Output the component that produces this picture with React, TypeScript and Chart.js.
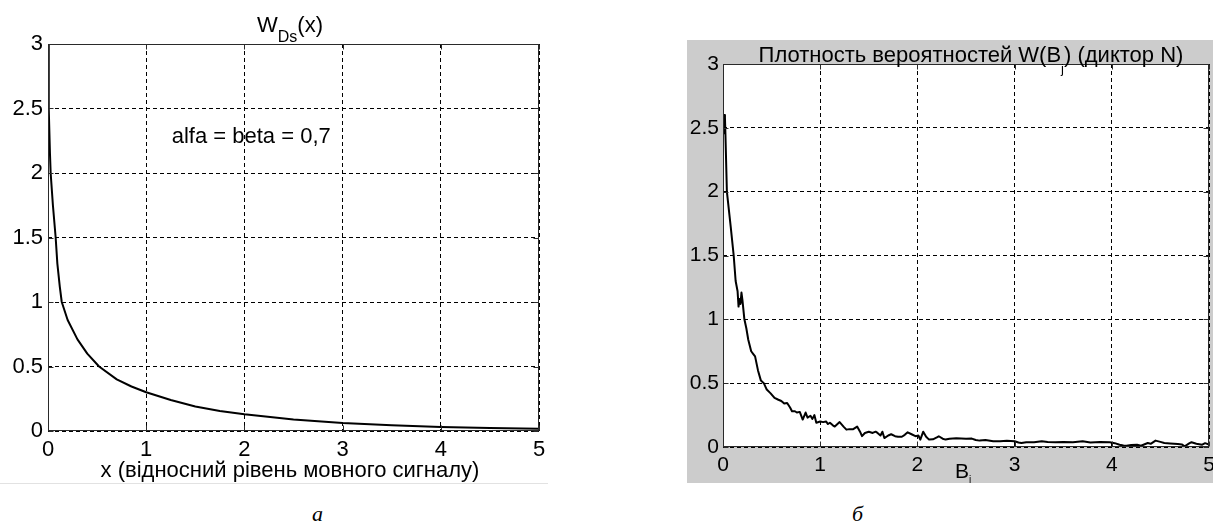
import React, { useEffect, useRef } from "react";
import { Chart, registerables } from "chart.js";
Chart.register(...registerables);

const FONT = '"Liberation Sans", Arial, Helvetica, sans-serif';

// tick values
const xTickValues = [0, 1, 2, 3, 4, 5];
const yTickValues = [0, 0.5, 1, 1.5, 2, 2.5, 3];

// left panel: W_Ds(x), alfa = beta = 0,7
const leftX = [0.002, 0.005, 0.01, 0.02, 0.027, 0.05, 0.078, 0.095, 0.12, 0.14, 0.2, 0.3, 0.4, 0.52, 0.7, 0.85, 1.0, 1.25, 1.5, 1.75, 2.0, 2.5, 3.0, 3.5, 4.0, 4.5, 5.0];
const leftY = [3.6, 2.9, 2.5, 2.15, 2.0, 1.75, 1.5, 1.3, 1.12, 1.0, 0.86, 0.71, 0.6, 0.5, 0.4, 0.345, 0.3, 0.24, 0.19, 0.155, 0.13, 0.09, 0.062, 0.045, 0.031, 0.023, 0.018];

// right panel: Плотность вероятностей W(Bj) (диктор N)
const rightX = [0.01, 0.015, 0.02, 0.025, 0.04, 0.08, 0.11, 0.13, 0.15, 0.16, 0.17, 0.18, 0.19, 0.2, 0.22, 0.24, 0.26, 0.29, 0.31, 0.33, 0.36, 0.39, 0.42, 0.45, 0.49, 0.53, 0.57, 0.6, 0.63, 0.66, 0.69, 0.71, 0.74, 0.76, 0.79, 0.82, 0.85, 0.87, 0.9, 0.92, 0.94, 0.96, 1.0, 1.03, 1.06, 1.08, 1.1, 1.13, 1.15, 1.2, 1.24, 1.27, 1.3, 1.34, 1.38, 1.41, 1.43, 1.46, 1.5, 1.54, 1.57, 1.59, 1.62, 1.64, 1.66, 1.7, 1.73, 1.77, 1.8, 1.84, 1.87, 1.9, 1.94, 1.98, 2.01, 2.03, 2.06, 2.09, 2.12, 2.16, 2.2, 2.22, 2.26, 2.29, 2.33, 2.4, 2.5, 2.56, 2.6, 2.64, 2.7, 2.78, 2.85, 2.92, 3.0, 3.04, 3.07, 3.12, 3.2, 3.28, 3.34, 3.42, 3.5, 3.6, 3.7, 3.78, 3.88, 3.98, 4.03, 4.08, 4.12, 4.15, 4.2, 4.26, 4.3, 4.37, 4.4, 4.45, 4.5, 4.54, 4.6, 4.68, 4.72, 4.75, 4.8, 4.82, 4.87, 4.93, 4.96, 5.0];
const rightY = [2.45, 2.6, 2.58, 2.45, 2.0, 1.72, 1.5, 1.3, 1.22, 1.1, 1.16, 1.12, 1.21, 1.15, 1.0, 0.93, 0.84, 0.75, 0.73, 0.71, 0.6, 0.52, 0.5, 0.45, 0.42, 0.385, 0.37, 0.36, 0.34, 0.345, 0.31, 0.28, 0.28, 0.27, 0.275, 0.215, 0.27, 0.23, 0.245, 0.22, 0.25, 0.19, 0.2, 0.195, 0.2, 0.18, 0.19, 0.17, 0.16, 0.195, 0.16, 0.136, 0.14, 0.14, 0.16, 0.12, 0.085, 0.11, 0.12, 0.11, 0.12, 0.11, 0.09, 0.12, 0.07, 0.09, 0.1, 0.085, 0.08, 0.08, 0.095, 0.115, 0.1, 0.085, 0.09, 0.058, 0.12, 0.08, 0.058, 0.06, 0.075, 0.084, 0.065, 0.058, 0.065, 0.068, 0.065, 0.066, 0.055, 0.05, 0.055, 0.045, 0.046, 0.048, 0.045, 0.035, 0.031, 0.038, 0.037, 0.045, 0.04, 0.037, 0.04, 0.038, 0.045, 0.036, 0.04, 0.037, 0.03, 0.018, 0.012, 0.01, 0.015, 0.018, 0.01, 0.031, 0.025, 0.05, 0.04, 0.031, 0.028, 0.024, 0.02, 0.005, 0.03, 0.037, 0.025, 0.018, 0.03, 0.02];

type Seg = { t: string; sub?: boolean };

function drawRich(
  ctx: CanvasRenderingContext2D,
  segs: Seg[],
  x: number,
  baseY: number,
  size: number,
  subSize: number,
  subDrop: number,
  align: "center" | "left" = "center"
) {
  const mainF = `${size}px ${FONT}`;
  const subF = `${subSize}px ${FONT}`;
  let total = 0;
  const widths = segs.map((s) => {
    ctx.font = s.sub ? subF : mainF;
    const w = ctx.measureText(s.t).width;
    total += w;
    return w;
  });
  let cx = align === "center" ? x - total / 2 : x;
  ctx.textAlign = "left";
  ctx.textBaseline = "alphabetic";
  ctx.fillStyle = "#000";
  segs.forEach((s, i) => {
    ctx.font = s.sub ? subF : mainF;
    ctx.fillText(s.t, cx, s.sub ? baseY + subDrop : baseY);
    cx += widths[i];
  });
}

type Cfg = {
  w: number;
  h: number;
  bg: string;
  yW: number;
  xH: number;
  pad: { top: number; right: number; bottom: number; left: number };
  tickSize: number;
  xTickPad: number;
  yTickPad: number;
  xs: number[];
  ys: number[];
  lineWidth: number;
  texts: (ctx: CanvasRenderingContext2D, chart: Chart) => void;
};

function build(canvas: HTMLCanvasElement, cfg: Cfg): Chart {
  const decor = {
    id: "decor",
    beforeDraw(chart: Chart) {
      const { ctx, chartArea: a } = chart;
      ctx.save();
      ctx.fillStyle = cfg.bg;
      ctx.fillRect(0, 0, chart.width, chart.height);
      ctx.fillStyle = "#fff";
      ctx.fillRect(a.left, a.top, a.right - a.left, a.bottom - a.top);
      ctx.restore();
    },
    afterDatasetsDraw(chart: Chart) {
      const { ctx, chartArea: a } = chart;
      const xs = chart.scales.x;
      const ys = chart.scales.y;
      ctx.save();
      ctx.strokeStyle = "#2a2a2a";
      ctx.lineWidth = 1;
      const L = Math.round(a.left) + 0.5;
      const R = Math.round(a.right) - 0.5;
      const T = Math.round(a.top) + 0.5;
      const B = Math.round(a.bottom) - 0.5;
      ctx.strokeRect(L, T, R - L, B - T);
      const tl = 5;
      ctx.beginPath();
      xTickValues.forEach((v) => {
        const px = Math.round(xs.getPixelForValue(v)) + 0.5;
        ctx.moveTo(px, B);
        ctx.lineTo(px, B - tl);
        ctx.moveTo(px, T);
        ctx.lineTo(px, T + tl);
      });
      yTickValues.forEach((v) => {
        const py = Math.round(ys.getPixelForValue(v)) + 0.5;
        ctx.moveTo(L, py);
        ctx.lineTo(L + tl, py);
        ctx.moveTo(R, py);
        ctx.lineTo(R - tl, py);
      });
      ctx.stroke();
      ctx.restore();
    },
    afterDraw(chart: Chart) {
      const ctx = chart.ctx;
      ctx.save();
      cfg.texts(ctx, chart);
      ctx.restore();
    },
  };

  return new Chart(canvas, {
    type: "line",
    data: {
      datasets: [
        {
          data: cfg.xs.map((x, i) => ({ x, y: cfg.ys[i] })),
          borderColor: "#000",
          borderWidth: cfg.lineWidth,
          pointRadius: 0,
          fill: false,
          tension: 0,
          borderJoinStyle: "round",
        },
      ],
    },
    options: {
      responsive: false,
      animation: false,
      devicePixelRatio: 1,
      layout: { padding: cfg.pad },
      plugins: {
        legend: { display: false },
        tooltip: { enabled: false },
        title: { display: false },
      },
      scales: {
        x: {
          type: "linear",
          min: 0,
          max: 5,
          afterBuildTicks: (s: any) => {
            s.ticks = xTickValues.map((v) => ({ value: v }));
          },
          afterFit: (s: any) => {
            s.height = cfg.xH;
          },
          grid: { color: "#000", lineWidth: 1, drawTicks: false },
          border: { display: false, dash: [4, 3] },
          ticks: {
            color: "#000",
            font: { family: FONT, size: cfg.tickSize },
            padding: cfg.xTickPad,
            maxRotation: 0,
            autoSkip: false,
            callback: (v: any) => String(v),
          },
        },
        y: {
          type: "linear",
          min: 0,
          max: 3,
          afterBuildTicks: (s: any) => {
            s.ticks = yTickValues.map((v) => ({ value: v }));
          },
          afterFit: (s: any) => {
            s.width = cfg.yW;
          },
          grid: { color: "#000", lineWidth: 1, drawTicks: false },
          border: { display: false, dash: [4, 3] },
          ticks: {
            color: "#000",
            font: { family: FONT, size: cfg.tickSize },
            padding: cfg.yTickPad,
            autoSkip: false,
            callback: (v: any) => String(v),
          },
        },
      },
    },
    plugins: [decor],
  } as any);
}

const leftCfg: Cfg = {
  w: 560,
  h: 483,
  bg: "#ffffff",
  yW: 48,
  xH: 52,
  pad: { top: 44, right: 21, bottom: 0, left: 0 },
  tickSize: 22,
  xTickPad: 6,
  yTickPad: 5,
  xs: leftX,
  ys: leftY,
  lineWidth: 2,
  texts: (ctx, chart) => {
    drawRich(ctx, [{ t: "W" }, { t: "Ds", sub: true }, { t: "(x)" }], 290, 32, 22, 16, 10);
    const xs = chart.scales.x;
    const ys = chart.scales.y;
    ctx.font = `22px ${FONT}`;
    ctx.fillStyle = "#000";
    ctx.textAlign = "left";
    ctx.textBaseline = "middle";
    ctx.fillText("alfa = beta = 0,7", xs.getPixelForValue(1.26), ys.getPixelForValue(2.28));
    ctx.textAlign = "center";
    ctx.fillText("x (відносний рівень мовного сигналу)", 290, 471);
  },
};

const rightCfg: Cfg = {
  w: 540,
  h: 443,
  bg: "#cccccc",
  yW: 36,
  xH: 36,
  pad: { top: 24, right: 18, bottom: 0, left: 0 },
  tickSize: 21,
  xTickPad: 6,
  yTickPad: 4,
  xs: rightX,
  ys: rightY,
  lineWidth: 2,
  texts: (ctx) => {
    drawRich(
      ctx,
      [{ t: "Плотность вероятностей W(B" }, { t: "j", sub: true }, { t: ") (диктор N)" }],
      284,
      22,
      22,
      13,
      11
    );
    drawRich(ctx, [{ t: "B" }, { t: "j", sub: true }], 268, 438, 21, 10, 5, "left");
  },
};

function ChartBox(props: { x: number; y: number; cfg: Cfg }) {
  const ref = useRef<HTMLCanvasElement>(null);
  useEffect(() => {
    const ch = build(ref.current!, props.cfg);
    return () => ch.destroy();
  }, []);
  return (
    <div style={{ position: "absolute", left: props.x, top: props.y, width: props.cfg.w, height: props.cfg.h }}>
      <canvas
        ref={ref}
        width={props.cfg.w}
        height={props.cfg.h}
        style={{ display: "block", width: props.cfg.w, height: props.cfg.h }}
      />
    </div>
  );
}

export default function App() {
  const cap: React.CSSProperties = {
    position: "absolute",
    fontFamily: '"Liberation Serif", "DejaVu Serif", serif',
    fontStyle: "italic",
    fontSize: 22,
    lineHeight: "22px",
    color: "#000",
  };
  return (
    <div
      style={{
        position: "absolute",
        left: 0,
        top: 0,
        width: 1213,
        height: 529,
        overflow: "hidden",
        background: "#fff",
      }}
    >
      <ChartBox x={0} y={0} cfg={leftCfg} />
      <div style={{ position: "absolute", left: 0, top: 483, width: 548, height: 1, background: "#e2e2e2" }} />
      <ChartBox x={687} y={40} cfg={rightCfg} />
      <span style={{ ...cap, left: 312, top: 503 }}>а</span>
      <span style={{ ...cap, left: 852, top: 503 }}>б</span>
    </div>
  );
}
